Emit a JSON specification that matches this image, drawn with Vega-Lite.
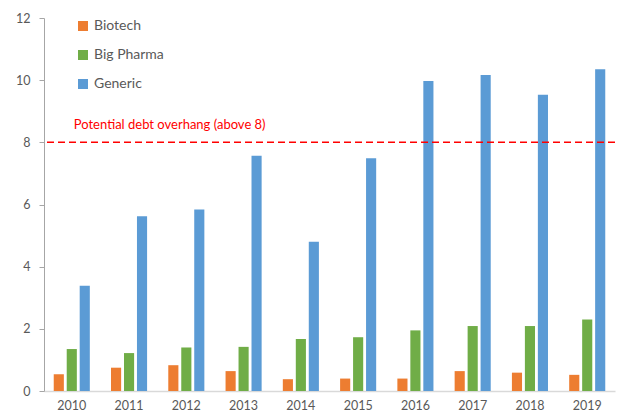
{
  "$schema": "https://vega.github.io/schema/vega-lite/v6.json",
  "autosize": {"type": "none"},
  "padding": {"left": 44, "top": 18, "right": 3, "bottom": 27},
  "width": 571,
  "height": 373,
  "config": {
    "view": {"stroke": null},
    "font": "Lato",
    "axis": {"labelFont": "Lato", "labelColor": "#595959", "labelFontSize": 12.5}
  },
  "layer": [
    {
      "data": {
        "values": [
          {"year": "2010", "sector": "Biotech", "value": 0.54},
          {"year": "2010", "sector": "Big Pharma", "value": 1.35},
          {"year": "2010", "sector": "Generic", "value": 3.39},
          {"year": "2011", "sector": "Biotech", "value": 0.75},
          {"year": "2011", "sector": "Big Pharma", "value": 1.22},
          {"year": "2011", "sector": "Generic", "value": 5.62},
          {"year": "2012", "sector": "Biotech", "value": 0.83},
          {"year": "2012", "sector": "Big Pharma", "value": 1.4},
          {"year": "2012", "sector": "Generic", "value": 5.84},
          {"year": "2013", "sector": "Biotech", "value": 0.64},
          {"year": "2013", "sector": "Big Pharma", "value": 1.42},
          {"year": "2013", "sector": "Generic", "value": 7.57},
          {"year": "2014", "sector": "Biotech", "value": 0.38},
          {"year": "2014", "sector": "Big Pharma", "value": 1.67},
          {"year": "2014", "sector": "Generic", "value": 4.8},
          {"year": "2015", "sector": "Biotech", "value": 0.4},
          {"year": "2015", "sector": "Big Pharma", "value": 1.73},
          {"year": "2015", "sector": "Generic", "value": 7.49},
          {"year": "2016", "sector": "Biotech", "value": 0.4},
          {"year": "2016", "sector": "Big Pharma", "value": 1.95},
          {"year": "2016", "sector": "Generic", "value": 9.97},
          {"year": "2017", "sector": "Biotech", "value": 0.64},
          {"year": "2017", "sector": "Big Pharma", "value": 2.09},
          {"year": "2017", "sector": "Generic", "value": 10.17},
          {"year": "2018", "sector": "Biotech", "value": 0.59},
          {"year": "2018", "sector": "Big Pharma", "value": 2.09},
          {"year": "2018", "sector": "Generic", "value": 9.53},
          {"year": "2019", "sector": "Biotech", "value": 0.52},
          {"year": "2019", "sector": "Big Pharma", "value": 2.3},
          {"year": "2019", "sector": "Generic", "value": 10.35}
        ]
      },
      "mark": {"type": "bar"},
      "encoding": {
        "x": {
          "field": "year", "type": "nominal",
          "scale": {"paddingInner": 0.37, "paddingOuter": 0.17},
          "axis": {"title": null, "labelAngle": 0, "ticks": false, "domainColor": "#D9D9D9", "domainWidth": 1.5, "labelPadding": 8}
        },
        "xOffset": {
          "field": "sector", "type": "nominal",
          "sort": ["Biotech", "Big Pharma", "Generic"],
          "scale": {"paddingInner": 0.22, "paddingOuter": 0}
        },
        "y": {
          "field": "value", "type": "quantitative",
          "scale": {"domain": [0, 12], "nice": false},
          "axis": {"title": null, "values": [0, 2, 4, 6, 8, 10, 12], "grid": false, "domainColor": "#A6A6A6", "tickColor": "#A6A6A6", "tickSize": 5, "labelPadding": 9}
        },
        "color": {
          "field": "sector", "type": "nominal",
          "sort": ["Biotech", "Big Pharma", "Generic"],
          "scale": {"domain": ["Biotech", "Big Pharma", "Generic"], "range": ["#ED7D31", "#70AD47", "#5B9BD5"]},
          "legend": {
            "title": null, "orient": "none", "legendX": 32, "legendY": 1,
            "symbolType": "square", "symbolSize": 100, "symbolStrokeWidth": 0,
            "labelFontSize": 14, "labelColor": "#595959", "labelFont": "Lato",
            "rowPadding": 15, "labelOffset": 4
          }
        }
      }
    },
    {
      "data": {"values": [{"threshold": 8}]},
      "mark": {"type": "rule", "color": "#FF0000", "strokeDash": [7, 4], "strokeWidth": 1.5},
      "encoding": {"y": {"field": "threshold", "type": "quantitative"}}
    },
    {
      "data": {"values": [{"year": "2010", "threshold": 8, "label": "Potential debt overhang (above 8)"}]},
      "mark": {"type": "text", "color": "#FF0000", "align": "left", "baseline": "middle", "dy": -17, "dx": 2, "fontSize": 13, "font": "Lato"},
      "encoding": {
        "x": {"field": "year", "type": "nominal"},
        "y": {"field": "threshold", "type": "quantitative"},
        "text": {"field": "label"}
      }
    }
  ]
}
